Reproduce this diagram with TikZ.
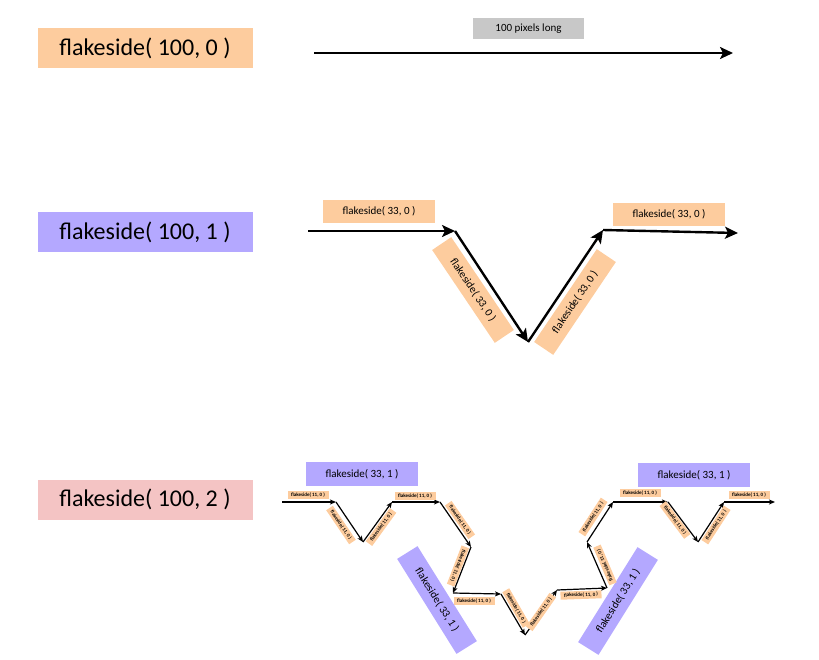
\documentclass[tikz,border=0pt]{standalone}
\usepackage{fontspec}
\setmainfont{Carlito}
\usetikzlibrary{arrows.meta}
\definecolor{peach}{RGB}{253,204,158}
\definecolor{lav}{RGB}{180,168,255}
\definecolor{pinkc}{RGB}{244,196,196}
\definecolor{grayc}{RGB}{200,200,200}
\begin{document}
\begin{tikzpicture}[x=1pt,y=-1pt,
  bigtag/.style={minimum width=215pt,minimum height=40pt,inner sep=0pt,font=\fontsize{24}{28}\selectfont},
  midtag/.style={fill=peach,minimum width=112pt,minimum height=23pt,inner sep=0pt,font=\fontsize{11}{13}\selectfont},
  lvtag/.style={fill=lav,minimum width=112pt,minimum height=24pt,inner sep=0pt,font=\fontsize{11}{13}\selectfont},
  smalltag/.style={fill=peach,minimum width=41pt,minimum height=8pt,inner sep=0pt,font=\fontsize{5}{6}\selectfont\bfseries},
  heavy/.style={line width=2.4pt,-{Stealth[length=13pt,width=12pt,inset=3pt]}},
  light/.style={line width=1.2pt,-{Stealth[length=6pt,width=5pt,inset=1.5pt]}}
]
\useasboundingbox (0,0) rectangle (819,659);

% --- row 1
\node[bigtag,fill=peach] (t0) at (145,48) {flakeside( 100, 0 )};
\node[fill=grayc,minimum width=111pt,minimum height=21pt,inner sep=0pt,font=\fontsize{11}{13}\selectfont] (len) at (528.5,28.5) {100 pixels long};
\coordinate (a0) at (314,53);
\coordinate (a1) at (733,53);
\draw[heavy] (a0) -- (a1);

% --- row 2
\node[bigtag,fill=lav] (t1) at (145,232) {flakeside( 100, 1 )};
\coordinate (b0) at (308,231);
\coordinate (b1) at (455,231);
\coordinate (b2) at (528,342);
\coordinate (b3) at (603,230);
\coordinate (b4) at (738,233);
\draw[heavy] (b0) -- (b1);
\draw[heavy] (b1) -- (b2);
\draw[heavy] (b2) -- (b3);
\draw[heavy] (b3) -- (b4);
\node[midtag] (m1) at (379,211.5) {flakeside( 33, 0 )};
\node[midtag,rotate=-56] (m2) at (473,290) {flakeside( 33, 0 )};
\node[midtag,rotate=56] (m3) at (575,302) {flakeside( 33, 0 )};
\node[midtag] (m4) at (669,214) {flakeside( 33, 0 )};

% --- row 3
\node[bigtag,fill=pinkc] (t2) at (145,499.5) {flakeside( 100, 2 )};
\coordinate (p0) at (282,502);
\coordinate (p1) at (336,502);
\coordinate (p2) at (363,542);
\coordinate (p3) at (392,502);
\coordinate (p4) at (440,502);
\coordinate (p5) at (471,547);
\coordinate (p6) at (453,593);
\coordinate (p7) at (501,594);
\coordinate (p8) at (525,635);
\coordinate (p9) at (557,590);
\coordinate (p10) at (607,588);
\coordinate (p11) at (587,542);
\coordinate (p12) at (613,502);
\coordinate (p13) at (668,502);
\coordinate (p14) at (698,542);
\coordinate (p15) at (724,502);
\coordinate (p16) at (775,502);
\foreach \i [evaluate=\i as \j using int(\i+1)] in {0,...,15}
  \draw[light] (p\i) -- (p\j);

\node[lvtag] (v1) at (362,474) {flakeside( 33, 1 )};
\node[lvtag] (v4) at (694,475) {flakeside( 33, 1 )};
\node[lvtag,rotate=-58] (v2) at (437,600) {flakeside( 33, 1 )};
\node[lvtag,rotate=58] (v3) at (618,601) {flakeside( 33, 1 )};

\node[smalltag] (s1) at (308,495) {flakeside( 11, 0 )};
\node[smalltag,rotate=-56] (s2) at (341,525) {flakeside( 11, 0 )};
\node[smalltag,rotate=54] (s3) at (381,527) {flakeside( 11, 0 )};
\node[smalltag] (s4) at (415,496) {flakeside( 11, 0 )};
\node[smalltag,rotate=-55] (s5) at (460,520) {flakeside( 11, 0 )};
\node[smalltag,rotate=-111] (s6) at (458,566) {flakeside( 11, 0 )};
\node[smalltag] (s7) at (474,601) {flakeside( 11, 0 )};
\node[smalltag,rotate=-60] (s8) at (516,608) {flakeside( 11, 0 )};
\node[smalltag,rotate=55] (s9) at (541,612) {flakeside( 11, 0 )};
\node[smalltag,rotate=2] (s10) at (581,595) {flakeside( 11, 0 )};
\node[smalltag,rotate=113] (s11) at (605,565) {flakeside( 11, 0 )};
\node[smalltag,rotate=57] (s12) at (593,517) {flakeside( 11, 0 )};
\node[smalltag] (s13) at (640,493) {flakeside( 11, 0 )};
\node[smalltag,rotate=-53] (s14) at (675,520) {flakeside( 11, 0 )};
\node[smalltag,rotate=57] (s15) at (716,525) {flakeside( 11, 0 )};
\node[smalltag] (s16) at (749,495) {flakeside( 11, 0 )};
\end{tikzpicture}
\end{document}
